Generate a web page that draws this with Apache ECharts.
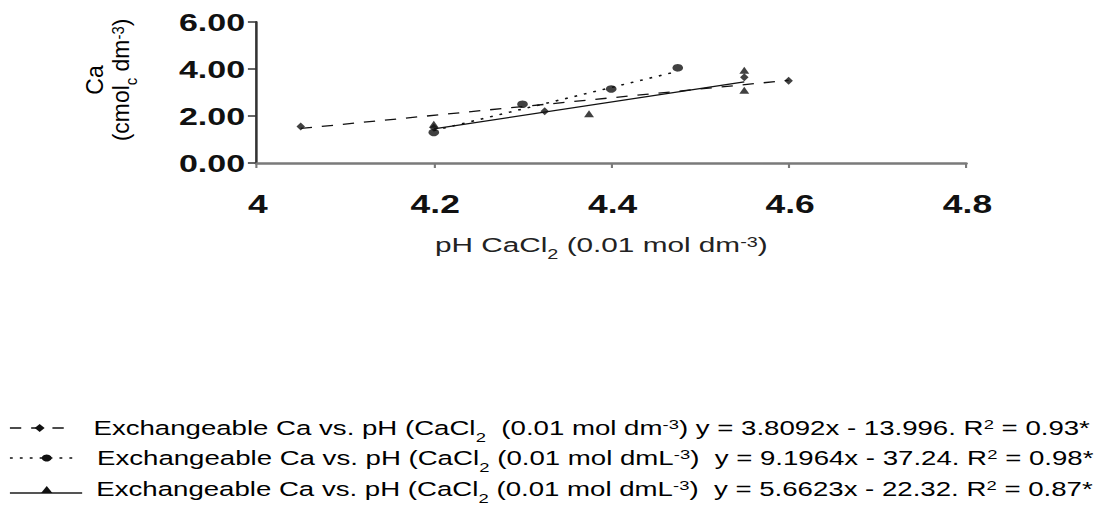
<!DOCTYPE html>
<html>
<head>
<meta charset="utf-8">
<script src="https://cdn.jsdelivr.net/npm/echarts@6/dist/echarts.min.js"></script>
<style>
  html, body { margin: 0; padding: 0; background: #fff; overflow: hidden; }
  /* the original picture is stretched sideways, so draw narrow and stretch */
  #chart { width: 790px; height: 515px; transform: scaleX(1.4165); transform-origin: 0 0; }
</style>
</head>
<body>
<div id="chart"></div>
<script>
// x tick labels
const xTicks = [4, 4.2, 4.4, 4.6, 4.8];

// Exchangeable Ca, diamonds (dashed fit)
const caDm = [[4.05, 1.55], [4.2, 1.5], [4.325, 2.2], [4.55, 3.65], [4.6, 3.5]];
// Exchangeable Ca, circles (dotted fit)
const caDmL1 = [[4.2, 1.3], [4.3, 2.5], [4.4, 3.15], [4.475, 4.05]];
// Exchangeable Ca, triangles (solid fit)
const caDmL2 = [[4.2, 1.65], [4.375, 2.1], [4.55, 3.1], [4.55, 3.95]];

// trend line ends
const fitDm = [[4.05, 1.47], [4.6, 3.52]];
const fitDmL1 = [[4.2, 1.38], [4.475, 3.9]];
const fitDmL2 = [[4.2, 1.45], [4.55, 3.45]];

const legendTexts = [
  '{t|Exchangeable Ca vs. pH (CaCl}{sub|2}{t|  (0.01 mol dm}{sup|-3}{t|) y = 3.8092x - 13.996. R}{sup|2}{t| = 0.93*}',
  '{t|Exchangeable Ca vs. pH (CaCl}{sub|2}{t| (0.01 mol dmL}{sup|-3}{t|)  y = 9.1964x - 37.24. R}{sup|2}{t| = 0.98*}',
  '{t|Exchangeable Ca vs. pH (CaCl}{sub|2}{t| (0.01 mol dmL}{sup|-3}{t|)  y = 5.6623x - 22.32. R}{sup|2}{t| = 0.87*}'
];

const FONT = "'Liberation Sans', Arial, sans-serif";
// rich styles for text with sub / superscripts
function richStyle(size, color, lh) {
  return {
    t: { fontSize: size, fontFamily: FONT, color: color, lineHeight: lh },
    sub: { fontSize: Math.round(size * 0.65), fontFamily: FONT, color: color, verticalAlign: 'bottom', lineHeight: lh, padding: [0, 0, -4, 0] },
    sup: { fontSize: Math.round(size * 0.65), fontFamily: FONT, color: color, verticalAlign: 'top', lineHeight: lh, padding: [2, 0, 0, 0] }
  };
}
const legendRich = richStyle(19.5, '#111', 24);

const chart = echarts.init(document.getElementById('chart'), null, { renderer: 'svg' });

// legend rows, drawn by hand (line sample + marker + text)
const rowY = [428, 458, 489];
const legendGraphic = [
  { type: 'line', shape: { x1: 7, y1: rowY[0], x2: 49, y2: rowY[0] }, style: { stroke: '#111', lineWidth: 1.3, lineDash: [8, 7] } },
  { type: 'polygon', shape: { points: [[28, rowY[0] - 4], [31.5, rowY[0]], [28, rowY[0] + 4], [24.5, rowY[0]]] }, style: { fill: '#111' } },
  { type: 'text', x: 66, y: rowY[0], style: { text: legendTexts[0], rich: legendRich, verticalAlign: 'middle' } },

  { type: 'line', shape: { x1: 7, y1: rowY[1], x2: 51, y2: rowY[1] }, style: { stroke: '#111', lineWidth: 1.3, lineDash: [2, 5] } },
  { type: 'circle', shape: { cx: 33, cy: rowY[1], r: 3.5 }, style: { fill: '#111' } },
  { type: 'text', x: 68.5, y: rowY[1], style: { text: legendTexts[1], rich: legendRich, verticalAlign: 'middle' } },

  { type: 'line', shape: { x1: 7, y1: rowY[2] + 4, x2: 58, y2: rowY[2] + 4 }, style: { stroke: '#555', lineWidth: 2 } },
  { type: 'polygon', shape: { points: [[33, rowY[2] - 3], [37, rowY[2] + 4], [29, rowY[2] + 4]] }, style: { fill: '#111' } },
  { type: 'text', x: 68, y: rowY[2], style: { text: legendTexts[2], rich: legendRich, verticalAlign: 'middle' } },

  // y axis title, long and narrow as in the picture
  {
    type: 'text',
    x: 76,
    y: 80,
    rotation: Math.PI / 2,
    scaleX: 1.35,
    style: {
      text: '{t|Ca}\n{t|(cmol}{sub|c}{t| dm}{sup|-3}{t|)}',
      rich: richStyle(17, '#333', 18),
      align: 'center',
      verticalAlign: 'middle'
    }
  }
];

chart.setOption({
  animation: false,
  backgroundColor: '#fff',
  grid: { left: 181, right: 108, top: 22, bottom: 352 },
  xAxis: {
    type: 'value',
    min: 4,
    max: 4.8,
    interval: 0.2,
    name: '{t|pH CaCl}{sub|2}{t| (0.01 mol dm}{sup|-3}{t|)}',
    nameLocation: 'middle',
    nameGap: 70,
    nameTextStyle: {
      padding: [0, 14, 0, 0],
      rich: richStyle(21, '#222', 24)
    },
    axisLine: { lineStyle: { color: '#7a7a7a', width: 2.5 } },
    axisTick: { show: true, length: 5, lineStyle: { color: '#7a7a7a', width: 1.5 } },
    splitLine: { show: false },
    axisLabel: {
      fontSize: 25,
      fontWeight: 'bold',
      fontFamily: FONT,
      color: '#111',
      margin: 29,
      padding: [0, 0, 0, 2],
      formatter: function (v) { return xTicks.indexOf(+v.toFixed(1)) >= 0 ? String(+v.toFixed(1)) : ''; }
    }
  },
  yAxis: {
    type: 'value',
    min: 0,
    max: 6,
    interval: 2,
    axisLine: { show: true, lineStyle: { color: '#333', width: 1.8 } },
    axisTick: { show: true, length: 6, lineStyle: { color: '#333', width: 1.5 } },
    splitLine: { show: false },
    axisLabel: {
      fontSize: 24,
      fontWeight: 'bold',
      fontFamily: FONT,
      color: '#111',
      margin: 8,
      formatter: function (v) { return v.toFixed(2); }
    }
  },
  series: [
    {
      name: 'fit dm',
      type: 'line',
      data: fitDm,
      symbol: 'none',
      lineStyle: { color: '#111', width: 1.3, type: [8, 7] },
      z: 2
    },
    {
      name: 'fit dmL 1',
      type: 'line',
      data: fitDmL1,
      symbol: 'none',
      lineStyle: { color: '#111', width: 1.5, type: [2, 5] },
      z: 2
    },
    {
      name: 'fit dmL 2',
      type: 'line',
      data: fitDmL2,
      symbol: 'none',
      lineStyle: { color: '#111', width: 1.3, type: 'solid' },
      z: 2
    },
    {
      name: 'Ca dm',
      type: 'scatter',
      data: caDm,
      symbol: 'diamond',
      symbolSize: [6, 8],
      itemStyle: { color: '#111' },
      z: 3
    },
    {
      name: 'Ca dmL 1',
      type: 'scatter',
      data: caDmL1,
      symbol: 'circle',
      symbolSize: 7.5,
      itemStyle: { color: '#111' },
      z: 3
    },
    {
      name: 'Ca dmL 2',
      type: 'scatter',
      data: caDmL2,
      symbol: 'triangle',
      symbolSize: [7, 7],
      itemStyle: { color: '#111' },
      z: 3
    }
  ],
  graphic: legendGraphic
});
</script>
</body>
</html>
